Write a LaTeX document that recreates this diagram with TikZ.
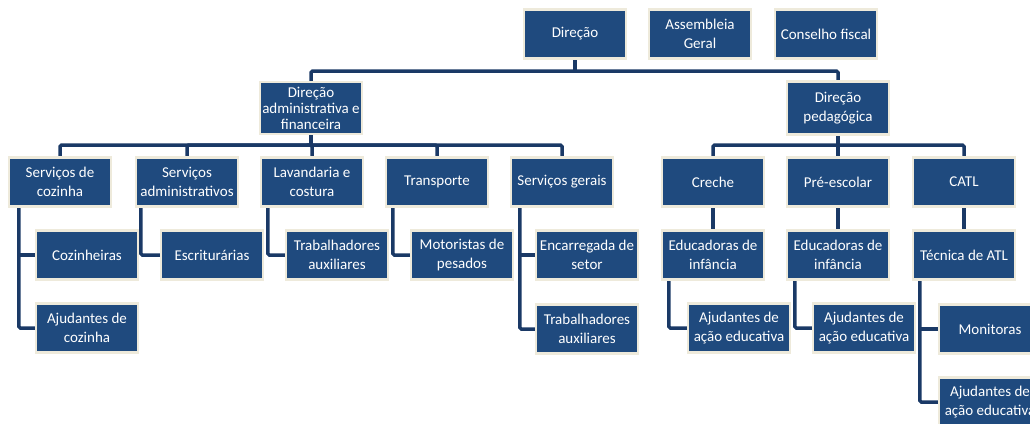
\documentclass[tikz,border=0pt]{standalone}
\usepackage{fontspec}
\setmainfont{Carlito}
\usetikzlibrary{backgrounds}
\definecolor{boxblue}{HTML}{1F4A7E}
\definecolor{linkblue}{HTML}{1A3966}
\definecolor{boxcream}{HTML}{EEEADB}

\begin{document}
\begin{tikzpicture}[x=1pt, y=-1pt,
    % Unit boxes: dark blue fill, pale cream rim, white text.
    unit/.style={rectangle, fill=boxblue, draw=boxcream, line width=2.5pt,
                 minimum width=102pt, minimum height=49pt, inner sep=0pt,
                 align=center, text=white,
                 font=\fontsize{15}{19}\selectfont},
    % Org chart links: thick navy elbows.
    link/.style={draw=linkblue, line width=3.5pt, rounded corners=1.5pt}
]
    \clip (0,0) rectangle (1030,423);
    \useasboundingbox (0,0) rectangle (1030,423);

    % === Top level ===
    \node[unit] (dir) at (575,34) {Direção};
    \node[unit] (ag)  at (700,34) {Assembleia\\Geral};
    \node[unit] (cf)  at (826,34) {Conselho fiscal};

    % === Directorates ===
    \node[unit, minimum height=52pt, font=\fontsize{15}{16}\selectfont]
        (dadm) at (311,108) {Direção\\administrativa e\\financeira};
    \node[unit, minimum height=53pt] (dped) at (838,108) {Direção\\pedagógica};

    % === Administrative services ===
    \node[unit] (cozinha) at (60,182)  {Serviços de\\cozinha};
    \node[unit] (sadm)    at (187,182) {Serviços\\administrativos};
    \node[unit] (lav)     at (312,182) {Lavandaria e\\costura};
    \node[unit] (transp)  at (437,182) {Transporte};
    \node[unit] (sger)    at (562,182) {Serviços gerais};

    % === Pedagogical services ===
    \node[unit] (creche) at (713,182) {Creche};
    \node[unit] (pre)    at (838,182) {Pré-escolar};
    \node[unit] (catl)   at (964,182) {CATL};

    % === Staff, administrative side ===
    \node[unit] (coz)   at (87,255)  {Cozinheiras};
    \node[unit] (ajcoz) at (87,328)  {Ajudantes de\\cozinha};
    \node[unit] (escr)  at (212,255) {Escriturárias};
    \node[unit] (trabA) at (337,255) {Trabalhadores\\auxiliares};
    \node[unit] (mot)   at (462,255) {Motoristas de\\pesados};
    \node[unit] (enc)   at (587,255) {Encarregada de\\setor};
    \node[unit] (trabB) at (587,329) {Trabalhadores\\auxiliares};

    % === Staff, pedagogical side ===
    \node[unit] (educA) at (713,255) {Educadoras de\\infância};
    \node[unit] (ajedA) at (739,328) {Ajudantes de\\ação educativa};
    \node[unit] (educB) at (838,255) {Educadoras de\\infância};
    \node[unit] (ajedB) at (864,328) {Ajudantes de\\ação educativa};
    \node[unit] (tatl)  at (964,255) {Técnica de ATL};
    \node[unit] (mon)   at (990,329) {Monitoras};
    \node[unit] (ajedC) at (990,402) {Ajudantes de\\ação educativa};

    % === Buses ===
    \coordinate (busA) at (575,71);
    \coordinate (busB) at (311,145);
    \coordinate (busC) at (838,145);

    \begin{scope}[on background layer]
    % Direção -> directorates
    \draw[link] (dir.south) -- (busA);
    \draw[link] (dadm.north) |- (busA) -| (dped.north);

    % Administrative directorate -> services
    \draw[link] (dadm.south) -- (busB);
    \foreach \n in {cozinha, sadm, lav, transp, sger}
        \draw[link] (\n.north) |- (busB);

    % Pedagogical directorate -> services
    \draw[link] (dped.south) -- (busC);
    \foreach \n in {creche, pre, catl}
        \draw[link] (\n.north) |- (busC);

    % Services -> staff (left elbows)
    \draw[link] ([xshift=11pt]cozinha.south west) |- (ajcoz.west);
    \draw[link] ([xshift=11pt]cozinha.south west |- coz.west) -- (coz.west);
    \draw[link] ([xshift=6pt]sadm.south west) |- (escr.west);
    \draw[link] ([xshift=8pt]lav.south west) |- (trabA.west);
    \draw[link] ([xshift=8pt]transp.south west) |- (mot.west);
    \draw[link] ([xshift=10pt]sger.south west) |- (trabB.west);
    \draw[link] ([xshift=10pt]sger.south west |- enc.west) -- (enc.west);

    \draw[link] (creche) -- (educA);
    \draw[link] (pre) -- (educB);
    \draw[link] (catl) -- (tatl);
    \draw[link] ([xshift=8pt]educA.south west) |- (ajedA.west);
    \draw[link] ([xshift=9pt]educB.south west) |- (ajedB.west);
    \draw[link] ([xshift=8pt]tatl.south west) |- (ajedC.west);
    \draw[link] ([xshift=8pt]tatl.south west |- mon.west) -- (mon.west);
    \end{scope}
\end{tikzpicture}
\end{document}
